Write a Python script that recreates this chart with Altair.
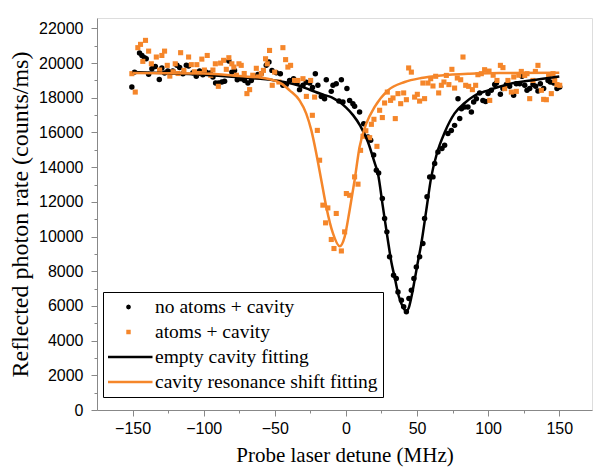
import altair as alt
import pandas as pd

# ---------------- data ----------------
black_x = [-150.5, -148.6, -145.1, -143.4, -141.6, -140.4, -138.7, -136.4, -134.0, -131.2,
           -129.4, -127.5, -125.2, -123.4, -121.7, -118.8, -116.9, -114.6, -112.2, -110.6,
           -107.6, -105.2, -102.9, -100.6, -98.2, -95.4, -93.5, -91.6, -89.5, -87.2,
           -85.3, -82.3, -80.2, -78.3, -76.4, -73.6, -71.2, -68.9, -66.5, -64.2,
           -61.9, -59.5, -56.0, -54.1, -52.0, -48.9, -46.1, -44.3, -41.9, -39.6,
           -36.8, -34.4, -32.6, -30.2, -27.9, -25.5, -23.5, -21.5, -19.7, -17.3,
           -15.0, -13.8, -10.3, -9.1, -6.8, -4.9, -3.2, -2.1, 0.7, 2.6,
           4.9, 6.1, 9.6, 12.5, 15.5, 17.4, 19.5, 21.4, 23.0, 25.6,
           27.2, 28.8, 30.7, 33.5, 35.4, 36.6, 39.0, 40.6, 42.5, 44.3,
           46.0, 47.8, 49.5, 51.8, 54.1, 55.3, 57.0, 58.9, 61.2, 62.4,
           64.7, 67.5, 69.4, 71.7, 74.1, 76.4, 78.8, 80.0, 81.2, 83.5,
           85.8, 88.2, 89.8, 91.7, 94.0, 96.3, 98.2, 99.9, 102.2, 104.6,
           105.8, 108.6, 110.4, 112.8, 115.1, 117.9, 119.8, 122.2, 123.8, 125.7,
           127.3, 129.2, 131.5, 133.4, 135.0, 136.7, 139.0, 142.1, 143.7, 146.1,
           148.4, 150.3]
black_y = [18620, 19480, 20580, 20440, 20310, 20250, 19350, 19680, 19810, 19060,
           19720, 19430, 19540, 19450, 19540, 19870, 19740, 19390, 19870, 19830,
           19450, 19240, 19540, 19330, 19480, 19430, 19200, 18850, 18850, 18910,
           18960, 20120, 19480, 19580, 19040, 19100, 19000, 18850, 19000, 19230,
           19350, 19390, 19870, 20060, 19580, 19450, 19390, 18720, 18770, 19000,
           19100, 18850, 18470, 18720, 18900, 18850, 18600, 19390, 18720, 18080,
           17950, 19040, 18370, 18720, 18810, 17810, 19040, 17760, 18530, 17850,
           17660, 17510, 17180, 16500, 15740, 15550, 14700, 13820, 13670, 12190,
           11040, 10270, 8830, 7770, 7580, 6810, 6330, 5950, 5660, 6430,
           6910, 7580, 8250, 8830, 9600, 11040, 12300, 13440, 13440, 14210,
           14880, 15070, 15260, 15940, 16120, 16410, 17950, 16800, 17370, 17470,
           17470, 17180, 17760, 17950, 18280, 17850, 17790, 18240, 18430, 18760,
           18850, 18200, 18530, 18760, 18660, 18140, 18810, 18810, 19240, 18720,
           18430, 18530, 18770, 18660, 18390, 18810, 18530, 19000, 18910, 18850,
           18530, 18620]

orange_x = [-150.5, -148.1, -146.3, -144.4, -142.8, -140.9, -138.7, -136.8, -133.3, -131.0,
            -129.4, -127.5, -125.6, -123.8, -121.5, -120.0, -118.0, -116.2, -113.9, -110.6,
            -108.7, -106.5, -104.8, -103.0, -101.3, -99.5, -97.5, -95.0, -93.5, -91.8,
            -89.7, -88.1, -86.0, -84.1, -82.3, -80.2, -78.8, -77.0, -75.2, -73.6,
            -71.5, -69.6, -67.7, -65.5, -63.0, -61.9, -59.5, -58.0, -56.5, -55.3,
            -53.7, -51.8, -50.1, -47.1, -44.3, -42.4, -40.8, -38.9, -36.1, -33.8,
            -30.2, -27.8, -24.8, -23.6, -22.0, -20.1, -18.5, -16.2, -14.3, -12.7,
            -10.3, -8.4, -6.8, -3.2, -0.9, 0.3, 2.6, 6.1, 8.5, 10.3,
            12.0, 14.0, 16.7, 17.9, 19.7, 21.8, 23.7, 25.6, 27.2, 29.1,
            31.4, 33.1, 34.7, 36.6, 38.5, 40.6, 42.5, 44.1, 46.0, 48.3,
            50.2, 51.8, 54.1, 55.3, 57.7, 59.6, 61.2, 63.1, 65.2, 67.1,
            68.9, 70.6, 72.4, 74.5, 76.4, 78.3, 80.7, 82.3, 84.2, 86.3,
            88.9, 91.2, 92.8, 95.2, 97.5, 100.6, 101.1, 103.5, 106.2, 108.6,
            110.4, 111.6, 113.9, 116.3, 118.0, 119.8, 121.5, 123.3, 125.7, 127.3,
            129.2, 131.5, 133.2, 135.0, 137.4, 139.0, 140.9, 142.5, 144.4, 145.6,
            146.8, 148.4, 150.3]
orange_y = [19390, 18330, 20890, 21080, 20100, 21310, 20690, 19960, 20350, 19600,
            20440, 20690, 19870, 19250, 19500, 19960, 19400, 20600, 19580, 20350,
            19910, 19500, 19910, 19400, 20230, 19600, 20440, 19300, 19600, 19960,
            18660, 20000, 20160, 19640, 20310, 19960, 19770, 19300, 19960, 19870,
            19400, 18240, 18470, 19300, 19700, 19200, 19390, 19580, 20250, 19960,
            20730, 18720, 19480, 18910, 20890, 20200, 19770, 19870, 19000, 19000,
            19100, 18080, 19000, 16990, 18040, 16120, 14400, 11810, 10790, 11650,
            9830, 9310, 11330, 9170, 10270, 12480, 12380, 13440, 13020, 14970,
            15780, 16100, 15700, 16470, 16760, 15200, 17280, 16860, 17700, 18330,
            17850, 17990, 16800, 18240, 17660, 18280, 17890, 19720, 19480, 18040,
            18200, 17810, 18850, 17950, 18850, 19100, 18680, 19240, 18280, 18720,
            18910, 19290, 18760, 19640, 18560, 19140, 19040, 20350, 18720, 18660,
            18470, 18720, 19330, 19390, 19620, 19540, 17850, 19300, 19000, 19870,
            19740, 18530, 19000, 18330, 19200, 18370, 19300, 19520, 19290, 19390,
            17950, 19000, 19520, 19870, 18430, 17910, 17890, 19300, 18240, 19390,
            19000, 18760, 18720]

black_fit_x = [-150, -125, -100, -75, -50, -35, -25, -15, -10, -5,
               0, 5, 10, 15.5, 20, 22.5, 26, 29.5, 32, 34.2,
               37, 40, 42.3, 44, 46, 48.3, 50.5, 53, 56.5, 60,
               64, 69.4, 76.4, 83.5, 90, 100, 115, 130, 150]
black_fit_y = [19480, 19420, 19330, 19180, 19000, 18750, 18450, 18150, 18030, 17780,
               17450, 17000, 16400, 15450, 14300, 13630, 11710, 9790, 8500, 7680,
               6600, 5950, 5700, 5850, 6500, 7490, 8500, 9600, 11520, 13440,
               14800, 16000, 17100, 17700, 18100, 18430, 18800, 19000, 19230]

orange_fit_x = [-150, -100, -75, -55, -45, -39.6, -32.6, -27.9, -24.3, -20.8,
                -17.3, -13.8, -9.1, -4.4, -0.9, 2.6, 6.1, 9.6, 14.3, 20.2,
                29.5, 41.3, 53, 67, 87, 110, 150]
orange_fit_y = [19430, 19400, 19250, 19100, 18800, 18430, 17850, 17090, 16120, 14780,
                13250, 11710, 10180, 9440, 9980, 11520, 13250, 15160, 16510, 17470,
                18430, 18910, 19140, 19290, 19390, 19430, 19450]

legend_names = ["no atoms + cavity", "atoms + cavity",
                "empty cavity fitting", "cavity resonance shift fitting"]

x_major = [-150, -100, -50, 0, 50, 100, 150]
x_minor = [-125, -75, -25, 25, 75, 125]
y_major = [0, 2000, 4000, 6000, 8000, 10000, 12000, 14000, 16000, 18000, 20000, 22000]
y_minor = [1000, 3000, 5000, 7000, 9000, 11000, 13000, 15000, 17000, 19000, 21000]

# ---------------- style ----------------
BLACK = "#000000"
ORANGE = "#F5862A"
XDOM = [-175, 173]
YDOM = [0, 22600]
SANS = "Liberation Sans"
SERIF = "Liberation Serif"

black_df = pd.DataFrame({"x": black_x, "y": black_y})
orange_df = pd.DataFrame({"x": orange_x, "y": orange_y})
bfit_df = pd.DataFrame({"x": black_fit_x, "y": black_fit_y})
ofit_df = pd.DataFrame({"x": orange_fit_x, "y": orange_fit_y})
leg_df = pd.DataFrame({"series": legend_names})


def xs():
    return alt.Scale(domain=XDOM, nice=False, zero=False)


def ys():
    return alt.Scale(domain=YDOM, nice=False, zero=False)


main_x_axis = alt.Axis(values=x_major, orient="bottom", title="Probe laser detune (MHz)",
                       tickSize=6, labelFontSize=16, labelPadding=4, labelFont=SANS,
                       titleFont=SERIF, titleFontSize=21, titleFontWeight="normal",
                       titlePadding=8, grid=False, labelFlush=False)
main_y_axis = alt.Axis(values=y_major, orient="left", title="Reflected photon rate (counts/ms)",
                       format="d", tickSize=6, labelFontSize=16, labelPadding=8, labelFont=SANS,
                       titleFont=SERIF, titleFontSize=24, titleFontWeight="normal",
                       titlePadding=6, grid=False)
minor_x_axis = alt.Axis(values=x_minor, orient="bottom", title=None, labels=False,
                        domain=False, tickSize=3, grid=False)
minor_y_axis = alt.Axis(values=y_minor, orient="left", title=None, labels=False,
                        domain=False, tickSize=3, grid=False)

black_pts = alt.Chart(black_df).mark_circle(size=30, color=BLACK, opacity=1).encode(
    x=alt.X("x:Q", scale=xs(), axis=main_x_axis),
    y=alt.Y("y:Q", scale=ys(), axis=main_y_axis),
)
orange_pts = alt.Chart(orange_df).mark_square(size=26, color=ORANGE, opacity=1).encode(
    x=alt.X("x:Q", scale=xs(), axis=None),
    y=alt.Y("y:Q", scale=ys(), axis=None),
)
black_line = alt.Chart(bfit_df).mark_line(color=BLACK, strokeWidth=2.5, interpolate="monotone").encode(
    x=alt.X("x:Q", scale=xs(), axis=minor_x_axis),
    y=alt.Y("y:Q", scale=ys(), axis=minor_y_axis),
)
orange_line = alt.Chart(ofit_df).mark_line(color=ORANGE, strokeWidth=2.5, interpolate="monotone").encode(
    x=alt.X("x:Q", scale=xs(), axis=None),
    y=alt.Y("y:Q", scale=ys(), axis=None),
)

dot_path = "M-0.045,0L-0.032,-0.032L0,-0.045L0.032,-0.032L0.045,0L0.032,0.032L0,0.045L-0.032,0.032Z"
sq_path = "M-0.04,-0.04L0.04,-0.04L0.04,0.04L-0.04,0.04Z"

leg_props = dict(title=None, orient="none", legendX=6, legendY=274, direction="vertical",
                 strokeColor="black", fillColor="white", padding=5, symbolOffset=-5,
                 symbolSize=2304, symbolStrokeWidth=2.5, labelFont=SERIF, labelFontSize=19.5,
                 labelColor="black", labelOffset=1, clipHeight=20, rowPadding=5,
                 labelLimit=400, cornerRadius=0)

legend_layer = alt.Chart(leg_df).mark_point(filled=False, opacity=1).encode(
    color=alt.Color("series:N", scale=alt.Scale(domain=legend_names, range=[BLACK, ORANGE, BLACK, ORANGE]),
                    legend=alt.Legend(**leg_props)),
    shape=alt.Shape("series:N", scale=alt.Scale(domain=legend_names, range=[dot_path, sq_path, "stroke", "stroke"]),
                    legend=alt.Legend(**leg_props)),
).transform_filter("false")

chart = alt.layer(black_pts, orange_pts, black_line, orange_line, legend_layer).resolve_scale(
    x="independent", y="independent"
).properties(
    width=495, height=392,
    autosize=alt.AutoSizeParams(type="none"),
    padding={"left": 97, "top": 18, "right": 1, "bottom": 60},
).configure_view(stroke=None).configure_axis(
    domainColor="black", tickColor="black", labelColor="black", titleColor="black",
    domainWidth=1, tickWidth=1
).configure(background="white")

chart.save("out.html", embed_options={"renderer": "svg", "actions": False})
